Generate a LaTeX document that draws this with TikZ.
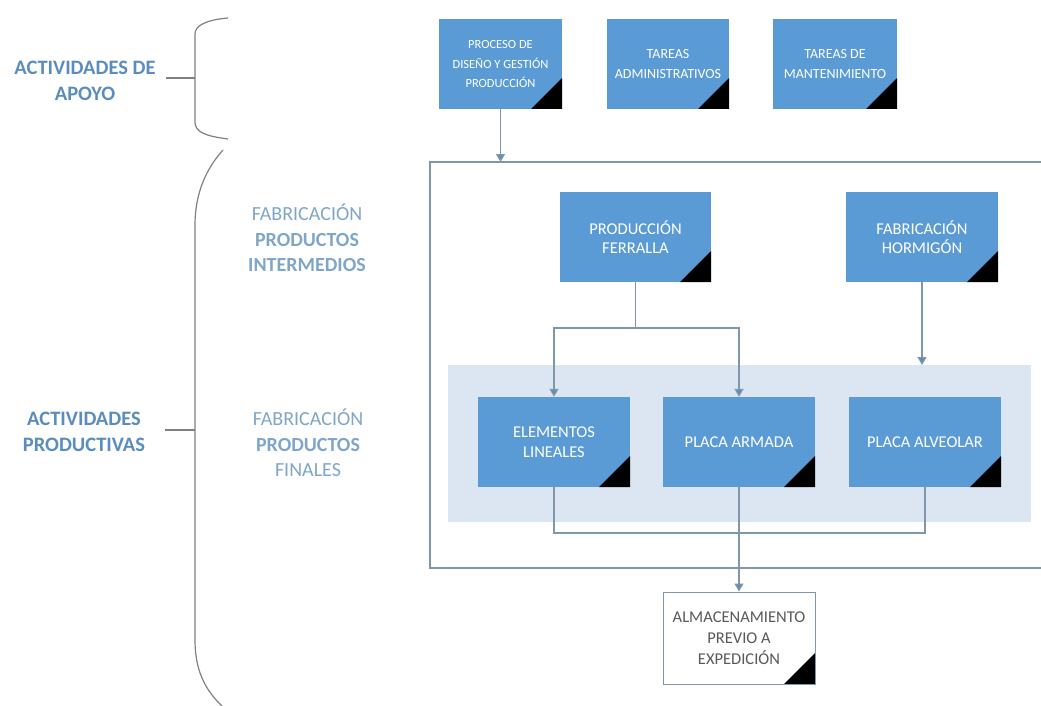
\documentclass[tikz,border=0pt]{standalone}
\usepackage{fontspec}
\setmainfont{Carlito}
\usetikzlibrary{arrows.meta}
\definecolor{boxblue}{HTML}{5B9BD5}
\definecolor{bandblue}{HTML}{DCE6F2}
\definecolor{linegray}{HTML}{7F97AA}
\definecolor{arrowblue}{HTML}{5F8DB5}
\definecolor{labelblue}{HTML}{5A8DBE}
\definecolor{labellight}{HTML}{7FA6C8}
\definecolor{bracegray}{HTML}{808080}
\newcommand{\fs}[1]{\fontsize{#1}{19.5}\selectfont}
\tikzset{
  x=1pt, y=-1pt,
  corner/.style={path picture={\fill[black] (path picture bounding box.south east) -- ++(-31pt,0pt) -- ++(31pt,31pt) -- cycle;}},
  procbox/.style={rectangle, fill=boxblue, draw=none, minimum width=152pt, minimum height=90pt,
    text=white, align=center, font=\fs{16.5}, inner sep=2pt, corner},
  topbox/.style={procbox, font=\fs{14}},
  whitebox/.style={rectangle, fill=white, draw=linegray, line width=1pt, minimum width=152pt, minimum height=92pt,
    text=black!65, align=center, font=\fontsize{16.5}{21}\selectfont, inner sep=2pt, corner},
  conn/.style={draw=linegray, line width=1.2pt},
  arr/.style={conn, -{Triangle[length=8pt,width=9pt,fill=arrowblue]}},
  biglabel/.style={text=labelblue, align=center, font=\fontsize{20.5}{26.5}\selectfont\bfseries},
  sidelabel/.style={text=labellight, align=center, font=\fontsize{20}{25.5}\selectfont},
  brace/.style={draw=bracegray, line width=1.2pt},
}
\begin{document}
\begin{tikzpicture}
\useasboundingbox (0,0) rectangle (1041,706);
% outer frame
\draw[draw=linegray, line width=1.5pt] (1045,162) -- (430,162) -- (430,568) -- (1045,568);
% light band
\fill[bandblue] (448,365) rectangle (1031,522);
% top row
\node[topbox, minimum width=123pt, font=\fs{12.5}] (p1) at (500.5,64) {PROCESO DE\\DISEÑO Y GESTIÓN\\PRODUCCIÓN};
\node[topbox, minimum width=122pt] (p2) at (668,64) {TAREAS\\ADMINISTRATIVOS};
\node[topbox, minimum width=124pt] (p3) at (835,64) {TAREAS DE\\MANTENIMIENTO};
% intermediate
\node[procbox, minimum width=151pt] (fer) at (635.5,237) {PRODUCCIÓN\\FERRALLA};
\node[procbox] (hor) at (922,237) {FABRICACIÓN\\HORMIGÓN};
% finals
\node[procbox] (ele) at (554,442) {ELEMENTOS\\LINEALES};
\node[procbox] (arm) at (739,442) {PLACA ARMADA};
\node[procbox] (alv) at (925,442) {PLACA ALVEOLAR};
% storage
\node[whitebox] (alm) at (739,638) {ALMACENAMIENTO\\PREVIO A\\EXPEDICIÓN};
% coordinates
\coordinate (frametop) at (500.5,162);
\coordinate (split) at (635.5,328);
\coordinate (bandtop) at (922,365);
\coordinate (merge) at (739,533);
% connectors
\draw[arr] (p1.south) -- (frametop);
\draw[conn] (fer.south) -- (split);
\draw[arr] (split) -| (ele.north);
\draw[arr] (split) -| (arm.north);
\draw[arr] (hor.south) -- (bandtop);
\draw[conn] (ele.south) |- (merge);
\draw[conn] (alv.south) |- (merge);
\draw[arr] (arm.south) -- (alm.north);
% left labels
\node[biglabel] (apoyo) at (85,81) {ACTIVIDADES DE\\APOYO};
\node[biglabel] (prod) at (84,432) {ACTIVIDADES\\PRODUCTIVAS};
\node[sidelabel] (inter) at (307,238) {FABRICACIÓN\\\textbf{PRODUCTOS}\\\textbf{INTERMEDIOS}};
\node[sidelabel] (fin) at (308,443) {FABRICACIÓN\\\textbf{PRODUCTOS}\\FINALES};
% braces
\draw[brace] (228,18) .. controls (205,20) and (195,26) .. (195,34) -- (195,122) .. controls (195,132) and (205,136) .. (228,139);
\coordinate (b1) at (195,78);
\draw[brace] (166,78) -- (b1);
\draw[brace] (223,150) .. controls (205,170) and (195,195) .. (195,225) -- (195,640) .. controls (195,670) and (205,690) .. (222,706);
\coordinate (b2) at (195,430);
\draw[brace] (165,430) -- (b2);
\end{tikzpicture}
\end{document}
